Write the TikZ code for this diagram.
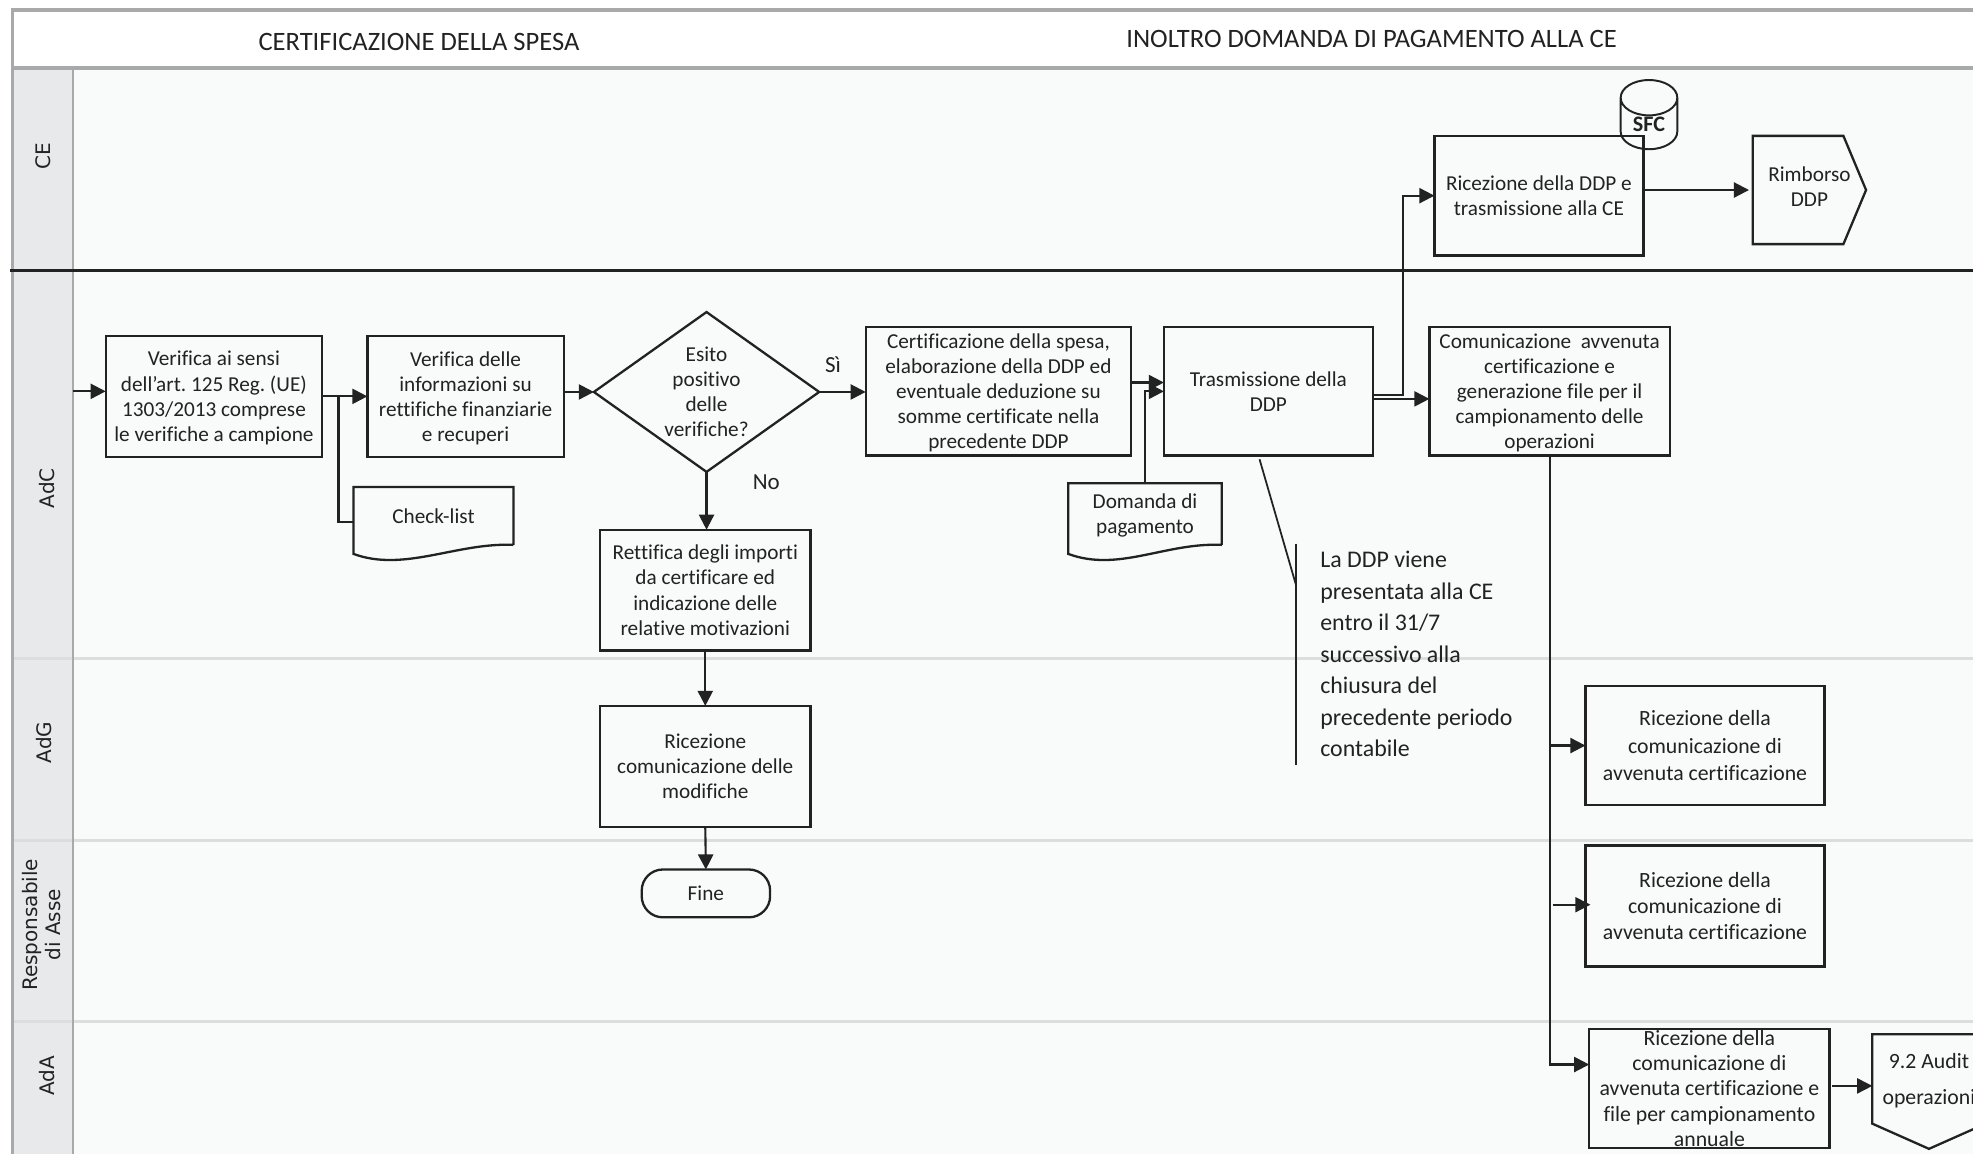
\documentclass[tikz,border=0pt]{standalone}
\usepackage{fontspec}
\setmainfont{Carlito}[Ligatures=NoCommon]
\newfontfamily\lanefont{DejaVu Sans}
\usetikzlibrary{arrows.meta,shapes.geometric}
\definecolor{lanebg}{HTML}{F9FAFA}
\definecolor{lanehead}{HTML}{E8E9EB}
\definecolor{laneline}{HTML}{DCDDDE}
\definecolor{frameline}{HTML}{A8A9AA}
\definecolor{ink}{HTML}{222222}
\tikzset{
  boxtext/.style={font=\frenchspacing\fontsize{12}{14.2}\selectfont,text=ink,align=center,inner sep=0pt,outer sep=0pt,text depth=0pt},
  boxnode/.style={boxtext,draw=ink,line width=1.3pt,minimum width=#1},
  boxnode/.default=4.15cm,
  plainnode/.style={boxtext,minimum width=#1},
  lanelabel/.style={font=\lanefont\fontsize{11.3}{13}\selectfont,text=ink,rotate=90,align=center},
  titlelabel/.style={font=\fontsize{15}{17}\selectfont,text=ink},
  conn/.style={draw=ink,line width=1.2pt,-{Triangle[length=.3cm,width=.3cm]}},
  plainconn/.style={draw=ink,line width=1.2pt},
  outline/.style={draw=ink,line width=1.3pt},
}
\begin{document}
\begin{tikzpicture}[x=.025cm,y=-.025cm]
\useasboundingbox (0,0) rectangle (1568,917);

\fill[lanebg] (10,54) rectangle (1568,917);
\fill[lanehead] (10,54) rectangle (58,917);
\draw[laneline,line width=1.6pt] (10,523)--(1568,523);
\draw[laneline,line width=1.6pt] (10,668)--(1568,668);
\draw[laneline,line width=1.6pt] (10,812)--(1568,812);
\draw[frameline,line width=1.4pt] (58,54)--(58,917);
\draw[frameline,line width=1.8pt] (10,917)--(10,8)--(1568,8);
\draw[frameline,line width=1.8pt] (10,54)--(1568,54);
\draw[ink,line width=1.3pt] (8,215)--(1568,215);

\node[titlelabel] (titolo1) at (333,33) {CERTIFICAZIONE DELLA SPESA};
\node[titlelabel] (titolo2) at (1090,31) {INOLTRO DOMANDA DI PAGAMENTO ALLA CE};

\node[lanelabel] (ce) at (34,124) {CE};
\node[lanelabel] (adc) at (37,388) {AdC};
\node[lanelabel] (adg) at (35,590) {AdG};
\node[lanelabel] (resp) at (33,735) {Responsabile\\di Asse};
\node[lanelabel] (ada) at (37,855) {AdA};

\node[boxnode=4.3cm,minimum height=2.4cm] (verifica) at (170,315) {Verifica ai sensi\\dell’art. 125 Reg. (UE)\\1303/2013 comprese\\le verifiche a campione};
\node[boxnode=3.9cm,minimum height=2.4cm] (verdelle) at (370,315) {Verifica delle\\informazioni su\\rettifiche finanziarie\\e recuperi};
\node[boxtext,draw=ink,line width=1.3pt,diamond,aspect=1.41,inner sep=-8pt,minimum width=4.475cm,minimum height=3.175cm] (esito) at (561.5,311.5) {Esito\\positivo\\delle\\verifiche?};
\node[boxnode=5.275cm,minimum height=2.55cm] (cert) at (793.5,311) {Certificazione della spesa,\\elaborazione della DDP ed\\eventuale deduzione su\\somme certificate nella\\precedente DDP};
\node[boxnode=4.15cm,minimum height=2.55cm] (trasm) at (1008,311) {Trasmissione della\\DDP};
\node[boxnode=4.775cm,minimum height=2.55cm] (comun) at (1231.5,311) {Comunicazione\ \ avvenuta\\certificazione e\\generazione file per il\\campionamento delle\\operazioni};
\node[boxnode=4.15cm,minimum height=2.375cm] (ricddp) at (1223,155.5) {Ricezione della DDP e\\trasmissione alla CE};
\node[boxnode=4.175cm,minimum height=2.4cm] (rett) at (560.5,469) {Rettifica degli importi\\da certificare ed\\indicazione delle\\relative motivazioni};
\node[boxnode=4.175cm,minimum height=2.4cm] (riccom) at (560.5,609) {Ricezione\\comunicazione delle\\modifiche};
\node[boxnode=2.55cm,minimum height=.95cm,rounded corners=.42cm] (fine) at (561,710) {Fine};
\node[boxnode=4.75cm,minimum height=2.375cm,font=\fontsize{12.3}{15.6}\selectfont] (ricadg) at (1355,592.5) {Ricezione della\\comunicazione di\\avvenuta certificazione};
\node[boxnode=4.75cm,minimum height=2.4cm,font=\fontsize{12.3}{14.6}\selectfont] (ricresp) at (1355,720) {Ricezione della\\comunicazione di\\avvenuta certificazione};
\node[boxnode=4.775cm,minimum height=2.375cm,font=\fontsize{12.3}{14.4}\selectfont] (ricada) at (1358.5,865) {Ricezione della\\comunicazione di\\avvenuta certificazione e\\file per campionamento\\annuale};

\node[boxtext,draw=ink,line width=1.1pt,cylinder,shape border rotate=90,aspect=1.1,minimum width=1.125cm,minimum height=1.375cm,font=\bfseries\fontsize{12.5}{14}\selectfont] (sfc) at (1310.5,98.5) {SFC};

\node[plainnode=3.175cm,minimum height=1.15cm] (checklist) at (344.5,410) {Check-list};
\node[plainnode=3.05cm,minimum height=1.225cm] (domanda) at (910,408.5) {Domanda di\\pagamento};
\foreach \n in {checklist,domanda}
  \draw[outline] (\n.south east)--(\n.north east)--(\n.north west)--([yshift=-.18cm]\n.south west)
    .. controls ([shift={(40,22)}]\n.south west) and ([shift={(-45,-2)}]\n.south east) .. (\n.south east);

\node[plainnode=2.25cm,minimum height=2.15cm] (rimborso) at (1438,151) {Rimborso\\DDP\\[-.35cm]};
\draw[outline] (rimborso.north west)--([xshift=-.45cm]rimborso.north east)--(rimborso.east)
  --([xshift=-.45cm]rimborso.south east)--(rimborso.south west)--cycle;

\node[plainnode=2.25cm,minimum height=1.775cm,font=\fontsize{12.3}{15}\selectfont] (audit) at (1533,857.5) {9.2 Audit\\[.2cm]operazioni};
\draw[outline] (audit.south west)--(audit.north west)--(audit.north east)--(audit.south east)
  --([yshift=-.5cm]audit.south)--cycle;

\node[anchor=west,align=left,inner sep=0pt,text=ink,font=\fontsize{13.5}{17.8}\selectfont] (nota) at (1049,520) {La DDP viene\\presentata alla CE\\entro il 31/7\\successivo alla\\chiusura del\\precedente periodo\\contabile};
\coordinate (notaa) at (1001,365);
\coordinate (notab) at (1030,465);
\coordinate (notac) at (1030,432);
\coordinate (notad) at (1030,608);
\draw[ink,line width=1pt] (notaa)--(notab);
\draw[ink,line width=1pt] (notac)--(notad);

\coordinate (ingresso) at (58,311);
\coordinate (jcheck) at (269,315);
\coordinate (jtrasm) at (1115,314);
\coordinate (jresp) at (1234,719);

\draw[conn] (ingresso)--(ingresso -| verifica.west);
\draw[conn] (verifica)--(verdelle);
\draw[plainconn] (jcheck)|-([yshift=-.125cm]checklist.west);
\draw[conn] (verdelle.east |- esito.west)--(esito.west);
\draw[conn] (esito.east)--(esito.east -| cert.west);
\node[boxtext,font=\fontsize{13}{15}\selectfont] (si) at (662,290) {Sì};
\draw[conn] (esito.south)--(esito.south |- rett.north);
\node[boxtext,font=\fontsize{13}{15}\selectfont] (no) at (609,383) {No};
\draw[conn] (rett.south)--(riccom.north);
\draw[conn] (riccom.south)--(fine.north);
\draw[conn] ([yshift=.175cm]cert.east)--([yshift=.175cm]trasm.west);
\draw[conn] (domanda.north)|-(trasm.west);
\draw[conn] (jtrasm -| trasm.east)--(jtrasm)|-(ricddp.west);
\draw[conn] ([yshift=-.15cm]trasm.east)--([yshift=-.15cm]comun.west);
\draw[conn] (ricddp.east |- rimborso.west)--([xshift=-.075cm]rimborso.west);
\draw[conn] (comun.south)|-([yshift=.475cm]ricada.west);
\draw[conn] (comun.south |- ricadg.west)--(ricadg.west);
\draw[conn,line width=.9pt] (jresp)--([xshift=.1cm]jresp -| ricresp.west);
\draw[conn,line width=.9pt] ([xshift=.05cm,yshift=.05cm]ricada.east)--([yshift=.05cm]ricada.east -| audit.west);

\end{tikzpicture}
\end{document}
